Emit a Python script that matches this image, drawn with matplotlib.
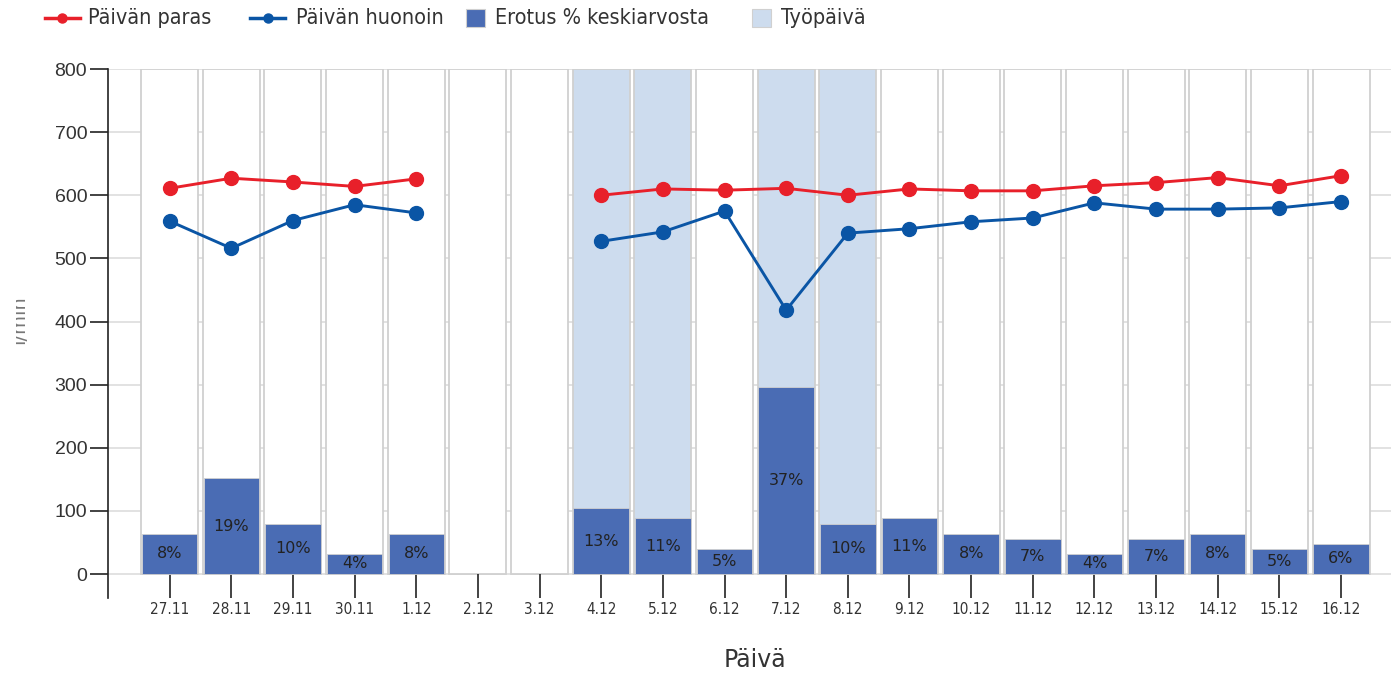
import matplotlib.pyplot as plt
import numpy as np
from matplotlib.lines import Line2D
from matplotlib.patches import Rectangle

# PEF data per day
days = ['27.11', '28.11', '29.11', '30.11', '1.12', '2.12', '3.12', '4.12', '5.12', '6.12',
        '7.12', '8.12', '9.12', '10.12', '11.12', '12.12', '13.12', '14.12', '15.12', '16.12']
best = [611, 627, 621, 614, 626, np.nan, np.nan, 600, 610, 608,
        611, 600, 610, 607, 607, 615, 620, 628, 615, 631]
worst = [559, 516, 560, 585, 572, np.nan, np.nan, 527, 542, 575,
         418, 540, 547, 558, 564, 588, 578, 578, 580, 590]
diff_pct = [8, 19, 10, 4, 8, np.nan, np.nan, 13, 11, 5,
            37, 10, 11, 8, 7, 4, 7, 8, 5, 6]
workday = [False, False, False, False, False, False, False, True, True, False,
           True, True, False, False, False, False, False, False, False, False]
legend_labels = ['Päivän paras', 'Päivän huonoin', 'Erotus % keskiarvosta', 'Työpäivä']

RED = '#e8202a'
BLUE = '#0a55a5'
BAR = '#4a6cb4'
WORK = '#cddcee'
GRID = '#dddddd'
COND = dict(family='DejaVu Sans', stretch='condensed')

W, H = 1391, 674
fig = plt.figure(figsize=(W / 100, H / 100), dpi=100)
ax = fig.add_axes([108 / W, 1 - 598 / H, 1 - 108 / W, (598 - 69) / H])

x = np.arange(len(days))
ax.set_xlim(-1.0, 19.81)
ax.set_ylim(-38, 800)

# grid
for v in range(0, 801, 100):
    ax.axhline(v, color=GRID, lw=1.2, zorder=0)

# column boxes
for i, w in enumerate(workday):
    ax.bar(i, 800, width=0.925, color=WORK if w else 'white',
           edgecolor='#d0d0d0', linewidth=1.3, zorder=1)

# percentage bars on a 0-100 % scale
ax2 = ax.twinx()
ax2.set_ylim(-38 / 8, 100)
ax2.set_yticks([])
for s in ax2.spines.values():
    s.set_visible(False)
pct = np.array(diff_pct, dtype=float)
ax2.bar(x, pct, width=0.9, color=BAR, edgecolor='#d0d0d0', linewidth=0.6, zorder=2)
for i, p in enumerate(pct):
    if not np.isnan(p):
        ax2.text(i, p / 2, f'{int(p)}%', ha='center', va='center',
                 fontsize=11.5, color='#222222', family='DejaVu Sans')

# lines
ax.plot(x, best, color=RED, lw=2.1, marker='o', ms=10, zorder=4)
ax.plot(x, worst, color=BLUE, lw=2.1, marker='o', ms=10, zorder=4)

# axes styling
for side in ['top', 'right', 'bottom']:
    ax.spines[side].set_visible(False)
ax.spines['left'].set_color('#222222')
ax.spines['left'].set_linewidth(1.2)
ax.set_yticks(range(0, 801, 100))
ax.tick_params(axis='y', length=13, width=1.2, color='#222222', labelsize=14,
               labelcolor='#333333', pad=2)
for lab in ax.get_yticklabels():
    lab.set_family('Liberation Sans')
ax.set_xticks(x)
ax.set_xticklabels(days, fontsize=11, color='#333333', **COND)
ax.tick_params(axis='x', direction='in', length=17.3, width=1.2, color='#222222', pad=3)

# y label, cut off at the left edge like in the original
fig.text(24 / W, 1 - 320 / H, 'l/min', rotation=90, rotation_mode='anchor',
         ha='center', va='baseline', fontsize=14, color='#777777')
fig.add_artist(Rectangle((0, 0), 15.5 / W, 1, facecolor='white', edgecolor='none',
                         transform=fig.transFigure, zorder=10))

fig.text(755 / W, 1 - 660 / H, 'Päivä', ha='center', va='center',
         fontsize=17, color='#333333', family='DejaVu Sans')

# legend drawn in figure pixels
ly = 1 - 18 / H
for x0, col in [(45, RED), (250, BLUE)]:
    fig.add_artist(Line2D([x0 / W, (x0 + 35) / W], [ly, ly], color=col, lw=2.5))
    fig.add_artist(Line2D([(x0 + 17.5) / W], [ly], color=col, marker='o', ms=6.5))
for x0, col in [(466, BAR), (752, WORK)]:
    fig.add_artist(Rectangle((x0 / W, 1 - 27 / H), 19 / W, 18 / H, facecolor=col,
                             edgecolor='#d0d0d0', lw=0.8, transform=fig.transFigure))
for x0, lab in zip([88, 296, 495, 781], legend_labels):
    fig.text(x0 / W, ly, lab, ha='left', va='center', fontsize=15.5, color='#333333', **COND)

fig.savefig('out.png', dpi=100)
